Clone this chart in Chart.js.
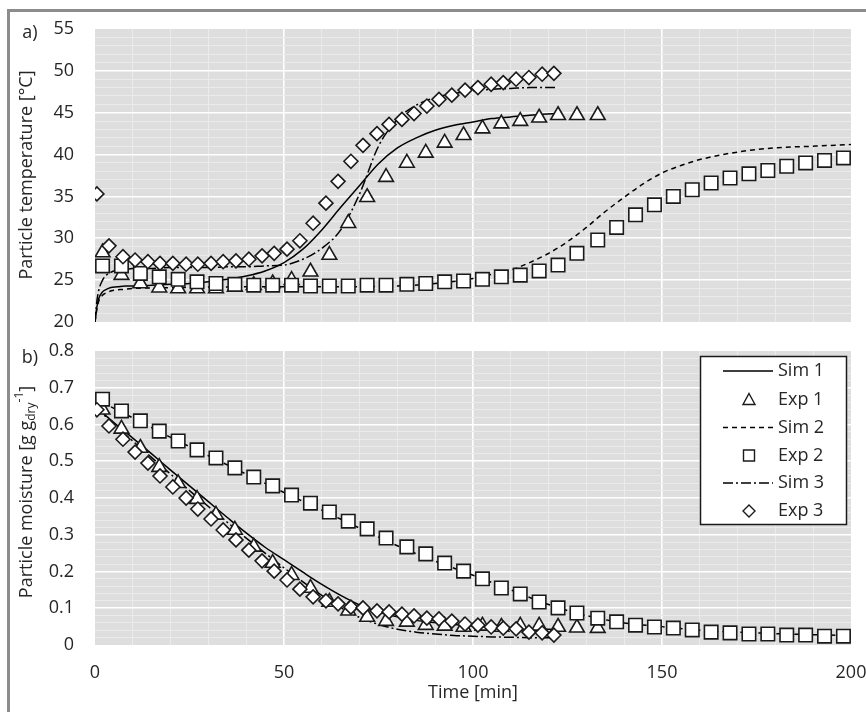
<!DOCTYPE html>
<html><head><meta charset="utf-8">
<script src="https://cdn.jsdelivr.net/npm/chart.js@4.4.0/dist/chart.umd.min.js"></script>
<style>
html,body{margin:0;padding:0;background:#fff;width:866px;height:712px;overflow:hidden;}
#frame{position:absolute;left:7px;top:9px;width:900px;height:800px;border:3px solid #8c8c8c;box-sizing:border-box;}
canvas{position:absolute;left:0;top:0;}
</style></head><body>
<div id="frame"></div>
<canvas id="c1" width="866" height="712" style="width:866px;height:712px"></canvas>
<canvas id="c2" width="866" height="712" style="width:866px;height:712px"></canvas>
<script>
// ---------- data ----------
const xTickLabels = ['0', '50', '100', '150', '200'];
const tempTickLabels = ['20', '25', '30', '35', '40', '45', '50', '55'];
const moistTickLabels = ['0', '0.1', '0.2', '0.3', '0.4', '0.5', '0.6', '0.7', '0.8'];
const legendLabels = ['Sim 1', 'Exp 1', 'Sim 2', 'Exp 2', 'Sim 3', 'Exp 3'];

// experiment times [min]
const expTime1 = [2, 7, 12, 17, 22, 27, 32, 37, 42, 47, 52, 57, 62, 67, 72, 77, 82.5, 87.5, 92.5, 97.5, 102.5, 107.5, 112.5, 117.5, 122.5, 127.5, 133];
const expTime2 = [2, 7, 12, 17, 22, 27, 32, 37, 42, 47, 52, 57, 62, 67, 72, 77, 82.5, 87.5, 92.5, 97.5, 102.5, 107.5, 112.5, 117.5, 122.5, 127.5, 133, 138, 143, 148, 153, 158, 163, 168, 173, 178, 183, 188, 193, 198];
const expTime3 = [0.5, 3.7, 7.4, 10.6, 14, 17.2, 20.6, 24.1, 27.2, 30.7, 33.9, 37.3, 40.7, 44.2, 47.4, 50.8, 54.2, 57.7, 61.1, 64.3, 67.7, 70.9, 74.6, 77.8, 81.2, 84.4, 87.8, 91, 94.4, 97.9, 101.3, 104.8, 108, 111.4, 114.8, 118.3, 121.4];

// experiment temperatures [°C]
const exp1Temp = [28.3, 25.6, 24.6, 24.1, 24.0, 24.0, 24.0, 24.2, 24.4, 24.6, 25.0, 26.0, 28.0, 31.8, 34.9, 37.3, 39.0, 40.2, 41.4, 42.3, 43.1, 43.7, 44.0, 44.4, 44.7, 44.7, 44.7];
const exp2Temp = [26.7, 26.7, 25.8, 25.4, 25.1, 24.8, 24.6, 24.5, 24.4, 24.4, 24.4, 24.3, 24.3, 24.3, 24.4, 24.4, 24.5, 24.6, 24.8, 24.9, 25.1, 25.4, 25.6, 26.1, 26.8, 28.2, 29.8, 31.3, 32.8, 34.0, 35.0, 35.8, 36.6, 37.2, 37.7, 38.1, 38.6, 39.0, 39.3, 39.6];
const exp3Temp = [35.3, 29.1, 27.8, 27.4, 27.2, 27.0, 27.0, 26.9, 26.9, 27.0, 27.2, 27.3, 27.5, 27.9, 28.2, 28.7, 29.7, 31.8, 34.2, 36.8, 39.2, 41.1, 42.5, 43.6, 44.2, 44.9, 45.8, 46.6, 47.1, 47.7, 48.0, 48.4, 48.6, 49.0, 49.2, 49.6, 49.7];

// experiment moisture [g/g dry]
const exp1Moist = [0.64, 0.588, 0.536, 0.484, 0.44, 0.397, 0.354, 0.313, 0.267, 0.223, 0.19, 0.155, 0.117, 0.093, 0.076, 0.065, 0.063, 0.054, 0.052, 0.049, 0.052, 0.049, 0.052, 0.052, 0.049, 0.047, 0.046];
const exp2Moist = [0.669, 0.637, 0.610, 0.582, 0.555, 0.531, 0.509, 0.482, 0.457, 0.433, 0.408, 0.386, 0.362, 0.337, 0.316, 0.291, 0.267, 0.248, 0.223, 0.201, 0.180, 0.155, 0.139, 0.117, 0.101, 0.087, 0.073, 0.063, 0.054, 0.049, 0.046, 0.041, 0.035, 0.033, 0.030, 0.030, 0.027, 0.027, 0.024, 0.024];
const exp3Moist = [0.640, 0.596, 0.560, 0.525, 0.495, 0.460, 0.430, 0.400, 0.370, 0.343, 0.313, 0.286, 0.258, 0.229, 0.201, 0.177, 0.152, 0.131, 0.120, 0.112, 0.103, 0.101, 0.093, 0.090, 0.084, 0.079, 0.073, 0.071, 0.065, 0.057, 0.054, 0.049, 0.046, 0.044, 0.035, 0.033, 0.027];

// simulation curves
const simTimeA = [0, 0.5, 1, 2, 3, 4, 6, 8, 10, 15, 20, 25, 30, 35, 40, 45, 50, 55, 60, 65, 70, 75, 80, 85, 90, 95, 100, 105, 110, 115, 122];
const sim1Temp = [20, 21.8, 22.8, 23.6, 23.9, 24.1, 24.2, 24.3, 24.3, 24.4, 24.5, 24.6, 24.8, 25.1, 25.5, 26.1, 27.1, 28.7, 31.0, 33.7, 36.3, 38.9, 40.8, 42.0, 42.9, 43.5, 43.9, 44.3, 44.5, 44.7, 44.9];
const sim3Temp = [20, 22.5, 23.8, 25.0, 25.6, 25.9, 26.2, 26.3, 26.4, 26.4, 26.5, 26.5, 26.5, 26.6, 26.6, 26.7, 26.8, 27.5, 28.8, 31.0, 35.3, 41.0, 44.2, 45.9, 46.8, 47.3, 47.6, 47.8, 47.9, 48.0, 48.0];
const simTimeC = [0, 0.5, 1, 2, 3, 5, 7.5, 10, 20, 40, 60, 80, 90, 100, 105, 110, 115, 120, 125, 130, 135, 140, 145, 150, 155, 160, 170, 180, 190, 200];
const sim2Temp = [20, 21.5, 22.5, 23.2, 23.5, 23.8, 23.9, 24.0, 24.1, 24.2, 24.2, 24.3, 24.6, 25.2, 25.7, 26.2, 27.1, 28.2, 29.6, 31.3, 33.2, 34.9, 36.5, 37.8, 38.7, 39.4, 40.3, 40.8, 41.0, 41.2];
const simTimeB = [0, 5, 10, 15, 20, 25, 30, 35, 40, 45, 50, 55, 60, 65, 70, 75, 80, 85, 90, 95, 100, 105, 110, 115, 122];
const sim1Moist = [0.65, 0.605, 0.563, 0.52, 0.476, 0.433, 0.39, 0.347, 0.305, 0.266, 0.232, 0.198, 0.165, 0.135, 0.109, 0.09, 0.077, 0.067, 0.061, 0.056, 0.052, 0.049, 0.046, 0.044, 0.042];
const sim3Moist = [0.65, 0.6, 0.555, 0.51, 0.465, 0.42, 0.377, 0.334, 0.291, 0.25, 0.21, 0.172, 0.135, 0.102, 0.075, 0.056, 0.043, 0.035, 0.03, 0.026, 0.024, 0.022, 0.021, 0.02, 0.02];
const simTimeD = [0, 10, 20, 30, 40, 50, 60, 70, 80, 90, 100, 110, 120, 130, 140, 150, 160, 170, 180, 190, 200];
const sim2Moist = [0.67, 0.618, 0.565, 0.515, 0.465, 0.415, 0.367, 0.318, 0.27, 0.228, 0.19, 0.15, 0.11, 0.08, 0.06, 0.05, 0.04, 0.035, 0.031, 0.028, 0.026];

// ---------- styling ----------
const FONT = "'Open Sans', sans-serif";
const TXT = '#262626';
const BG = '#dedede';
const MINOR = '#ebebeb';
const DASH2 = [5, 4];
const DASH3 = [10, 3, 2, 3];
Chart.defaults.font.family = FONT;
Chart.defaults.font.size = 18;
Chart.defaults.color = TXT;

const pts = (xs, ys) => xs.map((x, i) => ({x, y: ys[i]}));
const simDs = (label, xs, ys, dash) => ({
  label, data: pts(xs, ys), showLine: true, borderColor: '#000', borderWidth: 1.5,
  borderDash: dash, pointRadius: 0, pointHoverRadius: 0, cubicInterpolationMode: 'monotone',
  fill: false, order: 10
});
const expDs = (label, xs, ys, style, r, order) => ({
  label, data: pts(xs, ys), showLine: false, pointStyle: style, pointRadius: r, pointHoverRadius: r,
  pointBackgroundColor: '#fff', pointBorderColor: '#1a1a1a', pointBorderWidth: 1.6, order
});

const bgPlugin = {id: 'bg', beforeDraw(chart) {
  const {ctx, chartArea: a} = chart;
  ctx.save(); ctx.fillStyle = BG; ctx.fillRect(a.left, a.top, a.right - a.left, a.bottom - a.top); ctx.restore();
}};
const noPad = s => { s.paddingLeft = 0; s.paddingRight = 0; s.paddingTop = 0; s.paddingBottom = 0; };

const xScale = (showTicks) => ({
  type: 'linear', min: 0, max: 200,
  ticks: {display: showTicks, stepSize: 10, autoSkip: false, maxRotation: 0, padding: 17,
    callback: v => (v % 50 === 0 ? xTickLabels[v / 50] : '')},
  grid: {drawTicks: false,
    color: c => { const v = c.tick.value; if (v <= 0 || v >= 200) return 'rgba(0,0,0,0)'; return v % 50 === 0 ? '#ffffff' : MINOR; },
    lineWidth: c => (c.tick.value % 50 === 0 ? 1.6 : 1)},
  border: {display: false},
  afterFit: s => { s.height = showTicks ? 67 : 0; noPad(s); }
});

const axisTitle = (ctx, x, y, parts) => {
  ctx.save();
  ctx.translate(x, y); ctx.rotate(-Math.PI / 2);
  ctx.fillStyle = TXT; ctx.textBaseline = 'middle'; ctx.textAlign = 'left';
  let total = 0;
  parts.forEach(p => { ctx.font = p.size + 'px ' + FONT; total += ctx.measureText(p.t).width; });
  let cx = -total / 2;
  parts.forEach(p => { ctx.font = p.size + 'px ' + FONT; ctx.fillText(p.t, cx, p.dy); cx += ctx.measureText(p.t).width; });
  ctx.restore();
};
const plainText = (ctx, t, x, y, align) => {
  ctx.save(); ctx.fillStyle = TXT; ctx.font = '18px ' + FONT; ctx.textAlign = align || 'center'; ctx.textBaseline = 'middle';
  ctx.fillText(t, x, y); ctx.restore();
};

// ---------- chart a) temperature ----------
new Chart(document.getElementById('c1'), {
  type: 'scatter',
  data: {datasets: [
    simDs(legendLabels[0], simTimeA, sim1Temp, []),
    expDs(legendLabels[1], expTime1, exp1Temp, 'triangle', 8.5, 3),
    simDs(legendLabels[2], simTimeC, sim2Temp, DASH2),
    expDs(legendLabels[3], expTime2, exp2Temp, 'rect', 9.5, 2),
    simDs(legendLabels[4], simTimeA, sim3Temp, DASH3),
    expDs(legendLabels[5], expTime3, exp3Temp, 'rectRot', 7, 1)
  ]},
  options: {
    responsive: false, animation: false, devicePixelRatio: 1,
    layout: {padding: {left: 0, right: 15, top: 29, bottom: 390}},
    plugins: {legend: {display: false}, tooltip: {enabled: false}},
    scales: {
      x: xScale(false),
      y: {type: 'linear', min: 20, max: 55,
        ticks: {stepSize: 1, autoSkip: false, padding: 21,
          callback: v => (v % 5 === 0 ? tempTickLabels[(v - 20) / 5] : '')},
        grid: {drawTicks: false,
          color: c => { const v = c.tick.value; if (v <= 20 || v >= 55) return 'rgba(0,0,0,0)'; return v % 5 === 0 ? '#ffffff' : MINOR; },
          lineWidth: c => (c.tick.value % 5 === 0 ? 1.6 : 1)},
        border: {display: false},
        afterFit: s => { s.width = 95; noPad(s); }}
    }
  },
  plugins: [bgPlugin, {id: 'titles1', afterDraw(chart) {
    const ctx = chart.ctx;
    axisTitle(ctx, 27, 175, [{t: 'Particle temperature [°C]', size: 18, dy: 0}]);
    plainText(ctx, 'a)', 30, 33);
  }}]
});

// ---------- chart b) moisture ----------
const isMajor = v => Math.abs(v * 10 - Math.round(v * 10)) < 1e-6;
new Chart(document.getElementById('c2'), {
  type: 'scatter',
  data: {datasets: [
    simDs(legendLabels[0], simTimeB, sim1Moist, []),
    expDs(legendLabels[1], expTime1, exp1Moist, 'triangle', 8.5, 3),
    simDs(legendLabels[2], simTimeD, sim2Moist, DASH2),
    expDs(legendLabels[3], expTime2, exp2Moist, 'rect', 9.5, 2),
    simDs(legendLabels[4], simTimeB, sim3Moist, DASH3),
    expDs(legendLabels[5], expTime3, exp3Moist, 'rectRot', 7, 1)
  ]},
  options: {
    responsive: false, animation: false, devicePixelRatio: 1,
    layout: {padding: {left: 0, right: 15, top: 351, bottom: 0}},
    plugins: {legend: {display: false}, tooltip: {enabled: false}},
    scales: {
      x: xScale(true),
      y: {type: 'linear', min: 0, max: 0.8,
        ticks: {stepSize: 0.02, autoSkip: false, padding: 21,
          callback: v => (isMajor(v) ? moistTickLabels[Math.round(v * 10)] : '')},
        grid: {drawTicks: false,
          color: c => { const v = c.tick.value; if (v <= 0.0001 || v >= 0.7999) return 'rgba(0,0,0,0)'; return isMajor(v) ? '#ffffff' : MINOR; },
          lineWidth: c => (isMajor(c.tick.value) ? 1.6 : 1)},
        border: {display: false},
        afterFit: s => { s.width = 95; noPad(s); }}
    }
  },
  plugins: [bgPlugin, {id: 'titles2', afterDraw(chart) {
    const ctx = chart.ctx;
    axisTitle(ctx, 27, 492, [
      {t: 'Particle moisture [g g', size: 18, dy: 0},
      {t: 'dry', size: 12, dy: 5},
      {t: '-1', size: 12, dy: -7},
      {t: ']', size: 18, dy: 0}
    ]);
    plainText(ctx, 'b)', 30, 358);
    const a = chart.chartArea;
    plainText(ctx, 'Time [min]', (a.left + a.right) / 2, 693);
    // legend box
    const L = 700.5, T = 356.5, W = 146, H = 168;
    ctx.save();
    ctx.fillStyle = '#fff'; ctx.fillRect(L, T, W, H);
    ctx.strokeStyle = '#1a1a1a'; ctx.lineWidth = 1.5; ctx.strokeRect(L, T, W, H);
    const rows = [371, 399.5, 427.5, 455.5, 483, 511];
    const dashes = [[], null, DASH2, null, DASH3, null];
    const markers = [null, 'triangle', null, 'rect', null, 'rectRot'];
    rows.forEach((y, i) => {
      if (dashes[i]) {
        ctx.save(); ctx.strokeStyle = '#000'; ctx.lineWidth = 1.5; ctx.setLineDash(dashes[i]);
        ctx.beginPath(); ctx.moveTo(723, y); ctx.lineTo(773, y); ctx.stroke(); ctx.restore();
      } else {
        ctx.save(); ctx.strokeStyle = '#1a1a1a'; ctx.lineWidth = 1.4; ctx.fillStyle = '#fff';
        ctx.beginPath();
        const cx = 749;
        if (markers[i] === 'triangle') { ctx.moveTo(cx, y - 6); ctx.lineTo(cx + 6, y + 5); ctx.lineTo(cx - 6, y + 5); ctx.closePath(); }
        else if (markers[i] === 'rect') { ctx.rect(cx - 5.5, y - 5.5, 11, 11); }
        else { ctx.moveTo(cx, y - 6); ctx.lineTo(cx + 6, y); ctx.lineTo(cx, y + 6); ctx.lineTo(cx - 6, y); ctx.closePath(); }
        ctx.fill(); ctx.stroke(); ctx.restore();
      }
      plainText(ctx, legendLabels[i], 778, y, 'left');
    });
    ctx.restore();
  }}]
});
</script>
</body></html>
